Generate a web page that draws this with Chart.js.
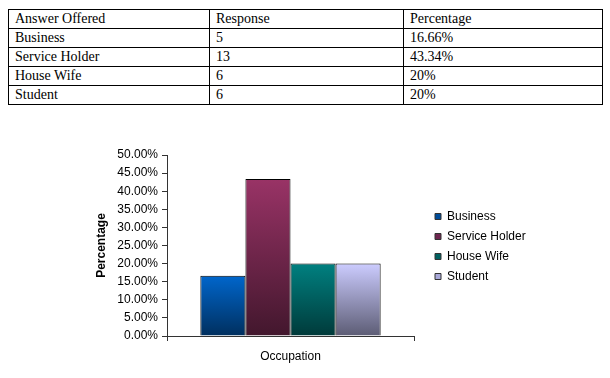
<!DOCTYPE html>
<html>
<head>
<meta charset="utf-8">
<script src="https://cdn.jsdelivr.net/npm/chart.js@4"></script>
<style>
  body { margin: 0; background: #fff; width: 610px; height: 378px; position: relative; overflow: hidden; }
  table { position: absolute; left: 8px; top: 9px; width: 595px; border-collapse: collapse;
          font-family: "Liberation Serif", "Times New Roman", serif; font-size: 14px; color: #000; }
  td { border: 1px solid #000; height: 18px; padding: 0 0 0 6px; line-height: 18px; }
  #wrap { position: absolute; left: 0; top: 140px; width: 610px; height: 232px; }
</style>
</head>
<body>
<table>
  <tr><td style="width:194px">Answer Offered</td><td style="width:187px">Response</td><td>Percentage</td></tr>
  <tr><td>Business</td><td>5</td><td>16.66%</td></tr>
  <tr><td>Service Holder</td><td>13</td><td>43.34%</td></tr>
  <tr><td>House Wife</td><td>6</td><td>20%</td></tr>
  <tr><td>Student</td><td>6</td><td>20%</td></tr>
</table>
<div id="wrap"><canvas id="chart"></canvas></div>
<script>
// gegevens
const groups = ['Occupation'];
const answers = ['Business', 'Service Holder', 'House Wife', 'Student'];
const percentages = [16.66, 43.34, 20, 20];
const topColors = ['#0066cc', '#993366', '#008080', '#ccccff'];
const bottomColors = ['#002f5e', '#42172d', '#003a3a', '#5c5c74'];
const legendColors = ['#004c99', '#6e2650', '#006060', '#a8a8d8'];

const fontSans = 'Liberation Sans, Arial, sans-serif';

document.addEventListener('DOMContentLoaded', () => {
  const ctx = document.getElementById('chart').getContext('2d');

  // verloop per staaf, van boven naar de nul-lijn
  const barGradient = (i) => (c) => {
    const chart = c.chart;
    const area = chart.chartArea;
    if (!area || !chart.scales.y) return topColors[i];
    const top = chart.scales.y.getPixelForValue(percentages[i]);
    const g = chart.ctx.createLinearGradient(0, top, 0, area.bottom);
    g.addColorStop(0, topColors[i]);
    g.addColorStop(1, bottomColors[i]);
    return g;
  };

  // legenda vaste breedte en wat verder van de grafiek af
  const legendGap = {
    id: 'legendGap',
    beforeInit(chart) {
      const fit = chart.legend.fit;
      chart.legend.fit = function () {
        fit.call(this);
        this.width = 120;
      };
    },
    afterLayout(chart) {
      const lg = chart.legend;
      lg.left += 13;
      lg.right += 13;
      lg.top -= 17;
      lg.bottom -= 17;
    }
  };

  const datasets = answers.map((name, i) => ({
    label: name,
    data: [percentages[i]],
    backgroundColor: barGradient(i),
    borderColor: '#000000',
    borderWidth: 1,
    categoryPercentage: 0.73,
    barPercentage: 1
  }));

  new Chart(ctx, {
    type: 'bar',
    data: { labels: groups, datasets: datasets },
    plugins: [legendGap],
    options: {
      responsive: true,
      maintainAspectRatio: false,
      animation: false,
      layout: { padding: { top: 15, bottom: 0, left: 0, right: 76 } },
      plugins: {
        tooltip: { enabled: false },
        legend: {
          position: 'right',
          labels: {
            boxWidth: 6,
            boxHeight: 6,
            padding: 8,
            color: '#000',
            font: { family: fontSans, size: 12 },
            generateLabels: () => answers.map((name, i) => ({
              text: name,
              fillStyle: legendColors[i],
              strokeStyle: '#333',
              lineWidth: 1,
              datasetIndex: i
            }))
          }
        }
      },
      scales: {
        x: {
          afterFit: (s) => { s.height = 36; },
          grid: { drawOnChartArea: false, drawTicks: true, tickLength: 5, color: '#333' },
          border: { color: '#333' },
          ticks: { color: '#000', font: { family: fontSans, size: 12 }, padding: 8 }
        },
        y: {
          min: 0,
          max: 50,
          afterFit: (s) => { s.width = 167; },
          grid: { drawOnChartArea: false, drawTicks: true, tickLength: 5, color: '#333' },
          border: { color: '#333' },
          ticks: {
            stepSize: 5,
            color: '#000',
            padding: 4,
            font: { family: fontSans, size: 12 },
            callback: (v) => v.toFixed(2) + '%'
          },
          title: {
            display: true,
            text: 'Percentage',
            color: '#000',
            padding: { top: 94, bottom: 0 },
            font: { family: fontSans, size: 12, weight: 'bold' }
          }
        }
      }
    }
  });
});
</script>
</body>
</html>
